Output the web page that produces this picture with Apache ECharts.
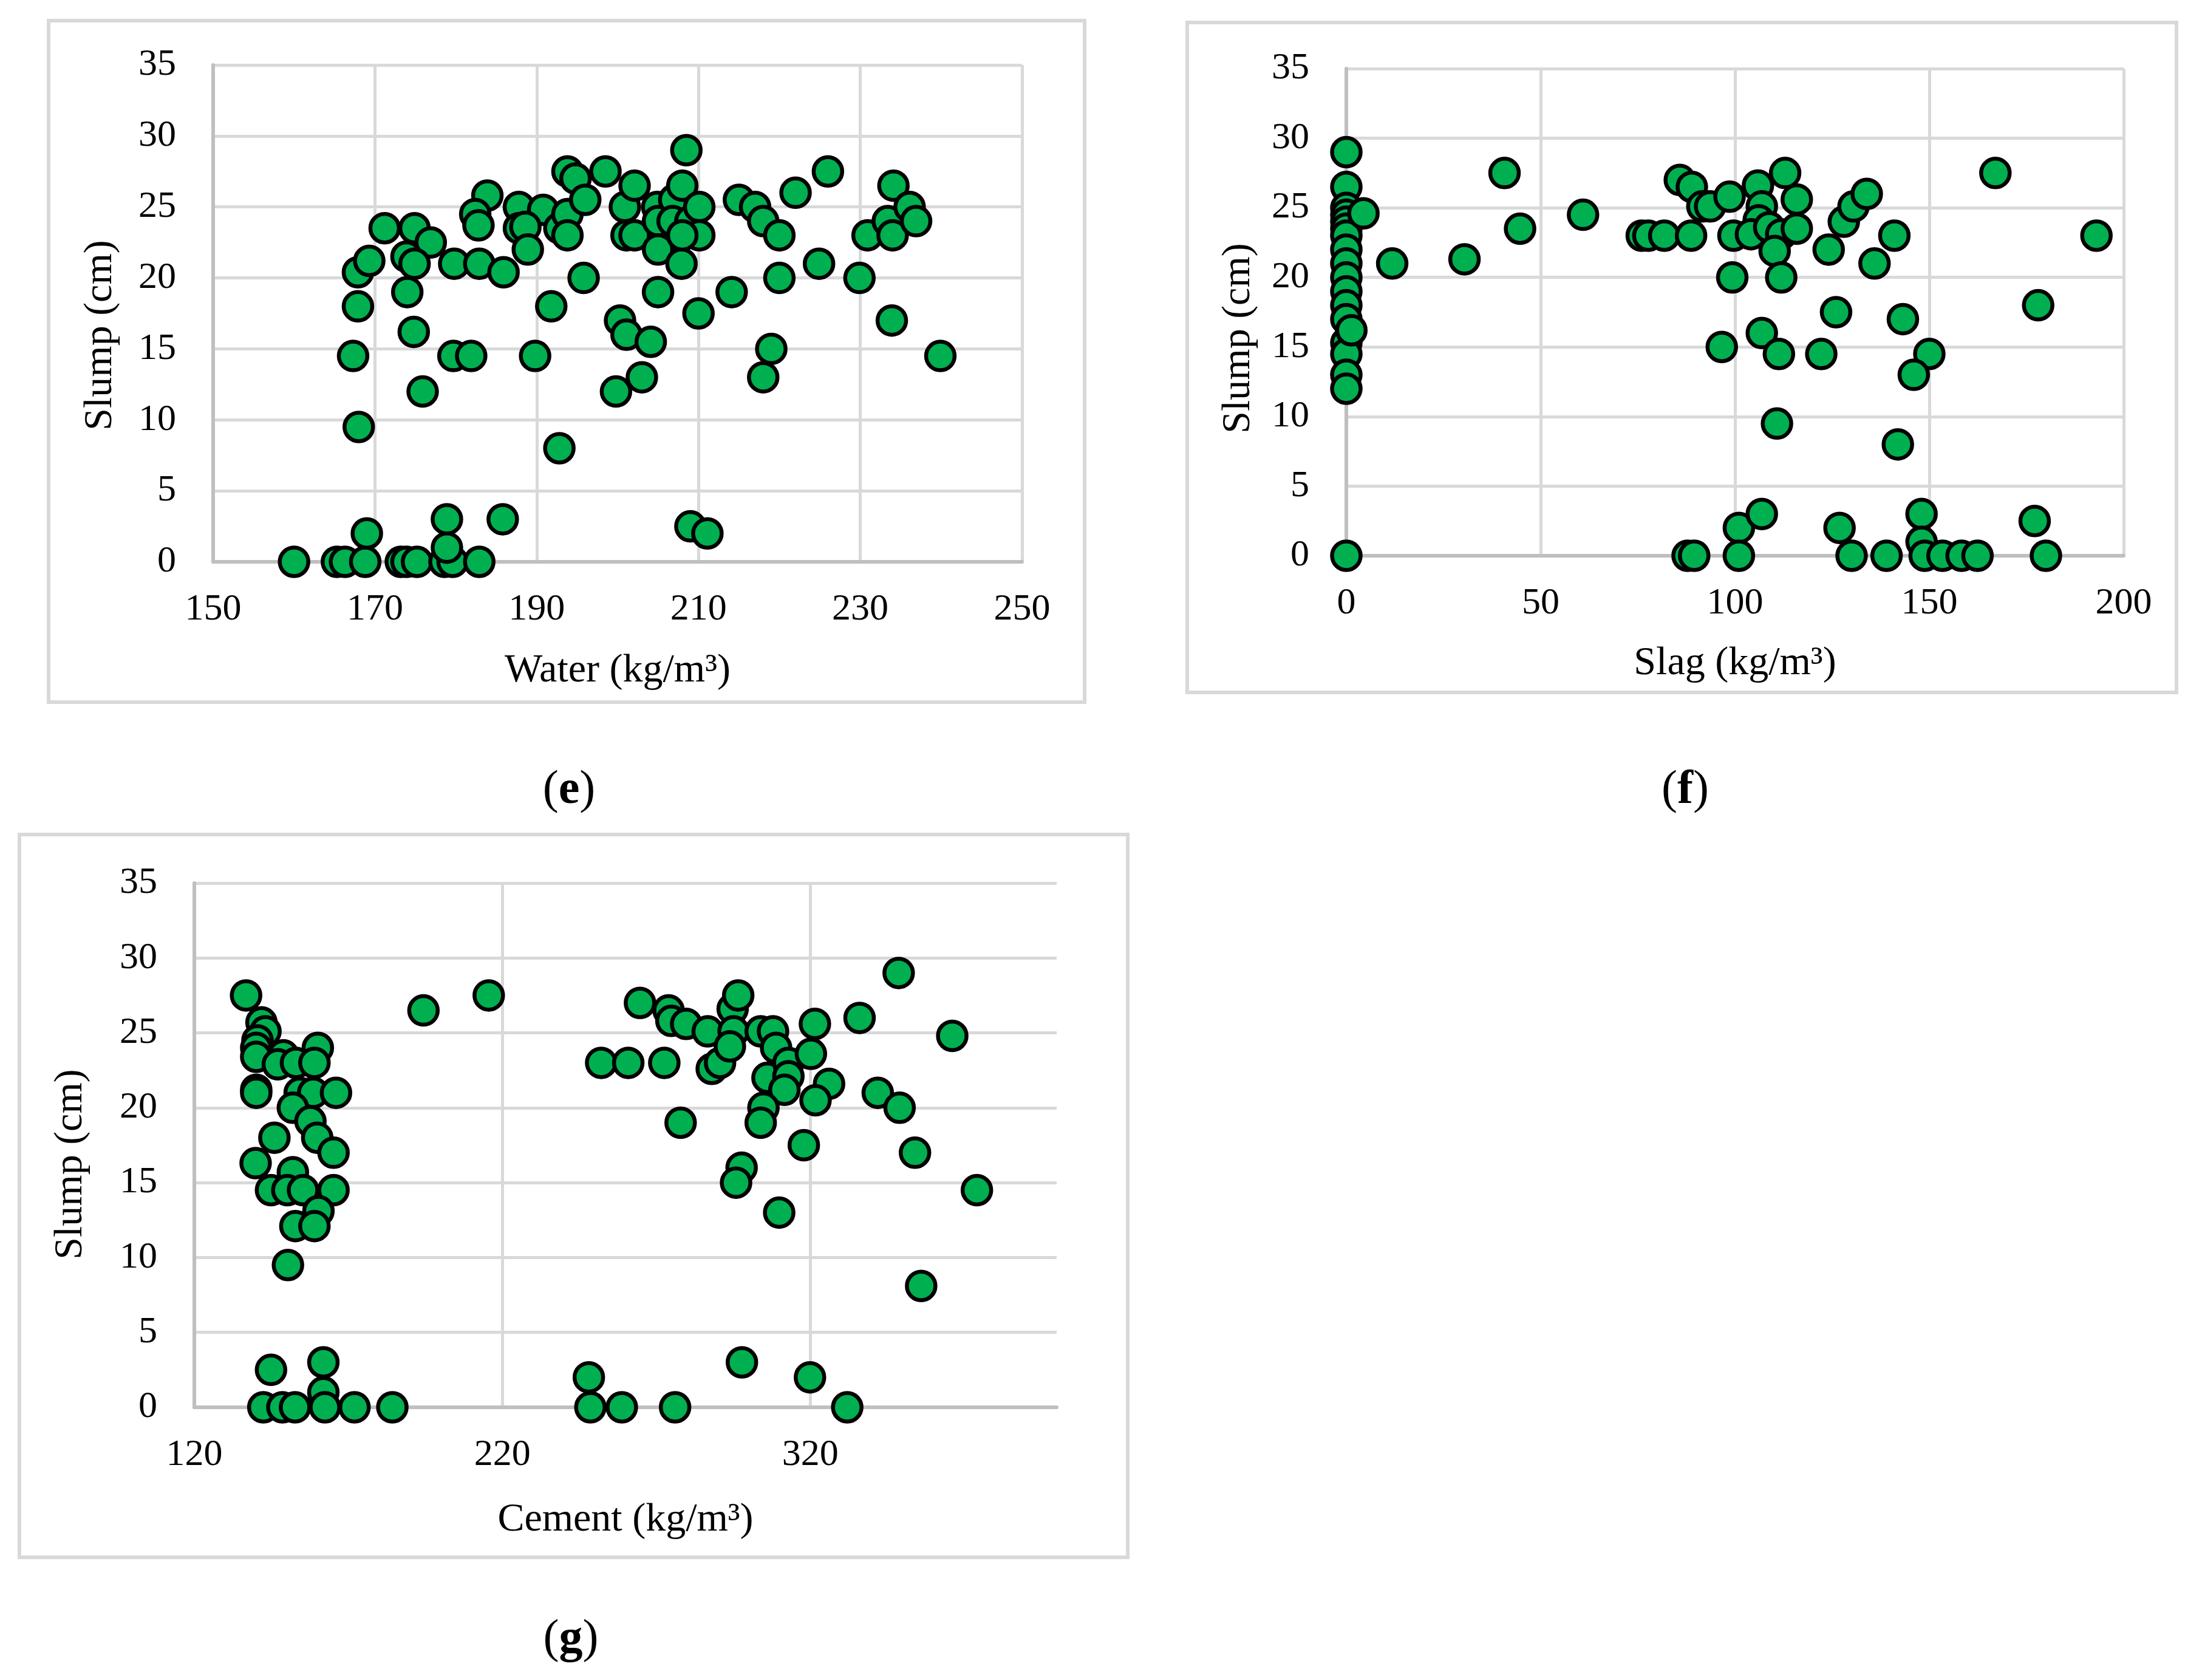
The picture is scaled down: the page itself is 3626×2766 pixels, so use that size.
<!DOCTYPE html>
<html>
<head>
<meta charset="utf-8">
<script src="https://cdn.jsdelivr.net/npm/echarts@6/dist/echarts.min.js"></script>
<style>
  html, body { margin: 0; padding: 0; background: #fff; }
  #chart { width: 3626px; height: 2766px; }
</style>
</head>
<body>
<div id="chart"></div>
<script>
// (e) slump vs water, [water, slump]
const waterSlump = [
  [160,0],[165.3,0],[166.3,0],[168.8,0],[173.2,0],[173.9,0],[175.2,0],[178.6,0],[179.6,0],[182.9,0],
  [169,2],[178.9,3],[178.9,1],[185.8,3],[209,2.5],[211.1,2],
  [167.9,20.4],[169.3,21.2],[167.9,18],[167.3,14.5],[168,9.5],
  [171.2,23.5],[174.9,23.5],[176.9,22.5],[173.9,21.5],[174.9,21],[174,19],[174.8,16.2],[175.9,12],
  [179.8,21],[182.9,21],[185.9,20.4],[179.7,14.5],[181.9,14.5],[189.8,14.5],
  [183.9,25.8],[182.4,24.5],[182.8,23.7],[187.8,25],[190.8,24.8],[187.8,23.5],[188.6,23.6],[188.9,22],
  [192.8,23.5],[193.8,24.5],[193.8,23],[193.8,27.5],[194.8,27],[196,25.5],[198.5,27.5],[195.8,20],[191.8,18],[192.8,8],
  [200.9,25],[201.1,23],[202.1,23],[200.3,17],[201.1,16],[199.8,12],[204.1,15.5],[203,13],
  [202.1,26.5],[204.9,25],[205,24],[207,25.5],[208,26.5],[208.5,29],[206.8,24],[209,24],[210.1,25],
  [205,22],[207.9,21],[210.1,23],[208,23],[205,19],[210,17.5],[214.1,19],
  [215,25.5],[217,25],[218,24],[220,23],[222,26],[226,27.5],[220,20],[224.9,21],[219,15],[218,13],
  [229.9,20],[230.9,23],[233.4,24],[234,23],[234.1,26.5],[236.1,25],[236.9,24],[233.9,17],[239.9,14.5]
];

// (f) slump vs slag, [slag, slump]
const slagSlump = [
  [0,29],[0,26.5],[0,25],[0,24.5],[0,24],[0,23.5],[0,23],[0,22],[0,21],[0,20],[0,19],[0,18],[0,17],
  [0,15.3],[0,14.5],[0,13],[0,12],[0,0],[1.3,16.2],[4.4,24.6],
  [11.8,21],[30.4,21.3],[40.7,27.5],[44.7,23.5],[60.9,24.5],
  [76,23],[77.7,23],[81.8,23],[88.7,23],[85.8,27],[88.9,26.5],[91.6,25.1],[93.6,25.1],[98.6,25.8],[99.6,23],[99.3,20],[96.6,15],
  [87.8,0],[89.5,0],[101,2],[101,0],
  [105.9,26.6],[112.9,27.5],[106.9,25.1],[115.9,25.6],[106.1,24.1],[104.1,23.1],[108.8,23.6],[111.9,23.1],[115.9,23.5],[110.2,21.9],[111.9,20],
  [124.1,22],[128,24],[130.5,25.1],[133.9,26],[141,23],[135.9,21],[126,17.5],[143.2,17],[106.9,16],
  [111.3,14.5],[122.2,14.5],[150,14.5],[146,13],[110.8,9.5],[141.9,8],
  [167,27.5],[193,23],[178,18],
  [106.9,3],[126.9,2],[130,0],[139,0],[148,3],[148,1],[148.8,0],[153.4,0],[158.3,0],[162.4,0],[177.1,2.5],[180,0]
];

// (g) slump vs cement, [cement, slump]
const cementSlump = [
  [136.8,27.5],[141.8,25.7],[143.1,25.1],[140.5,24.5],[140.1,24],[140.1,23.4],[148.9,23.5],[147.1,22.9],[153,23],[160.1,24],[159,23],
  [140.1,21.2],[140.1,21],[154.2,21],[158.6,21],[166,21],[152,20],[157.7,19.1],[159.9,18],[146,18],[165.2,17],[139.9,16.3],[152,15.7],
  [144.9,14.5],[150.2,14.5],[155.3,14.5],[165.2,14.5],[160.3,13.1],[152.8,12.1],[159,12.1],[150.4,9.5],
  [194.4,26.5],[215.6,27.5],
  [144.9,2.5],[161.9,3],[161.9,1],[142.4,0],[148.6,0],[152.7,0],[162.4,0],[172,0],[184.3,0],
  [252.1,23],[260.9,23],[272.6,23],[248.1,2],[248.6,0],[258.8,0],[276.1,0],
  [264.7,27],[274,26.5],[274.9,25.8],[279.7,25.6],[277.9,19],[286.7,25.1],[288,22.6],[290.7,23],[294.8,26.6],[296.6,27.5],
  [295.1,25.1],[293.9,24.1],[303.9,25.1],[307.9,25.1],[308.9,24],[306.1,22],[312.9,23],[312.9,22.1],[311.6,21.2],[304.8,20],[303.9,19],
  [321.5,25.6],[320.2,23.6],[326.1,21.6],[321.7,20.5],[317.9,17.5],[297.7,16],[295.9,15],[309.9,13],
  [336,26],[348.7,29],[366.1,24.8],[341.9,21],[349,20],[354,17],[374.1,14.5],[356,8.1],
  [297.8,3],[319.9,2],[332,0]
];

const slumpTicks = [0, 5, 10, 15, 20, 25, 30, 35];
const waterTicks = [150, 170, 190, 210, 230, 250];
const slagTicks = [0, 50, 100, 150, 200];
const cementTicks = [120, 220, 320];
const cementMax = 400;

const FONT = '"Times New Roman", "Liberation Serif", serif';
const GRID_C = '#d9d9d9';
const AXIS_C = '#bfbfbf';

function valueAxis(gridIndex, ticks, isX, max) {
  const hasMax = max === undefined;
  return {
    type: 'value',
    gridIndex: gridIndex,
    min: ticks[0],
    max: hasMax ? ticks[ticks.length - 1] : max,
    interval: ticks[1] - ticks[0],
    axisLine: { show: true, onZero: false, lineStyle: { color: AXIS_C, width: 6 } },
    axisTick: { show: false },
    splitLine: { show: true, showMaxLine: hasMax, lineStyle: { color: GRID_C, width: 5 } },
    axisLabel: {
      color: '#000', fontFamily: FONT, fontSize: 62, lineHeight: 62,
      margin: isX ? 48 : 61,
      showMinLabel: true, showMaxLabel: hasMax
    }
  };
}

function scatter(i, data) {
  return {
    type: 'scatter', xAxisIndex: i, yAxisIndex: i, data: data,
    symbol: 'circle', symbolSize: 47, clip: false,
    itemStyle: { color: '#00B050', borderColor: '#000', borderWidth: 6.5, opacity: 1 },
    emphasis: { disabled: true }
  };
}

function box(x1, y1, x2, y2) {
  return { type: 'rect', shape: { x: x1, y: y1, width: x2 - x1, height: y2 - y1 },
    style: { fill: null, stroke: GRID_C, lineWidth: 6 }, silent: true };
}

function label(text, x, y, size, rot) {
  return { type: 'text', x: x, y: y, rotation: rot || 0, silent: true,
    style: { text: text, fill: '#000', font: size + 'px ' + FONT,
      textAlign: 'center', textVerticalAlign: 'middle', align: 'center', verticalAlign: 'middle' } };
}

function caption(letter, x, y) {
  return { type: 'text', x: x, y: y, silent: true,
    style: { text: '({b|' + letter + '})', fill: '#000', font: '78px ' + FONT,
      textAlign: 'center', textVerticalAlign: 'middle', align: 'center', verticalAlign: 'middle',
      rich: { b: { fontFamily: FONT, fontSize: 78, fontWeight: 'bold', fill: '#000', color: '#000' } } } };
}

const chart = echarts.init(document.getElementById('chart'), null, { renderer: 'canvas' });
chart.setOption({
  animation: false,
  backgroundColor: '#fff',
  grid: [
    { left: 351, top: 107, width: 1332, height: 818 },
    { left: 2217, top: 113, width: 1280, height: 802 },
    { left: 320, top: 1454, width: 1420, height: 863 }
  ],
  xAxis: [
    valueAxis(0, waterTicks, true),
    valueAxis(1, slagTicks, true),
    valueAxis(2, cementTicks, true, cementMax)
  ],
  yAxis: [
    valueAxis(0, slumpTicks, false),
    valueAxis(1, slumpTicks, false),
    valueAxis(2, slumpTicks, false)
  ],
  series: [
    scatter(0, waterSlump),
    scatter(1, slagSlump),
    scatter(2, cementSlump)
  ],
  graphic: [
    box(80, 34, 1786, 1156),
    box(1955, 37, 3584, 1140),
    box(32, 1374, 1857, 2564),
    label('Water (kg/m³)', 1017, 1105, 66),
    label('Slag (kg/m³)', 2857, 1093, 66),
    label('Cement (kg/m³)', 1030, 2503, 66),
    label('Slump (cm)', 166, 552, 66, Math.PI / 2),
    label('Slump (cm)', 2040, 557, 66, Math.PI / 2),
    label('Slump (cm)', 117, 1917, 66, Math.PI / 2),
    caption('e', 937, 1302),
    caption('f', 2775, 1302),
    caption('g', 940, 2700)
  ]
});
</script>
</body>
</html>
